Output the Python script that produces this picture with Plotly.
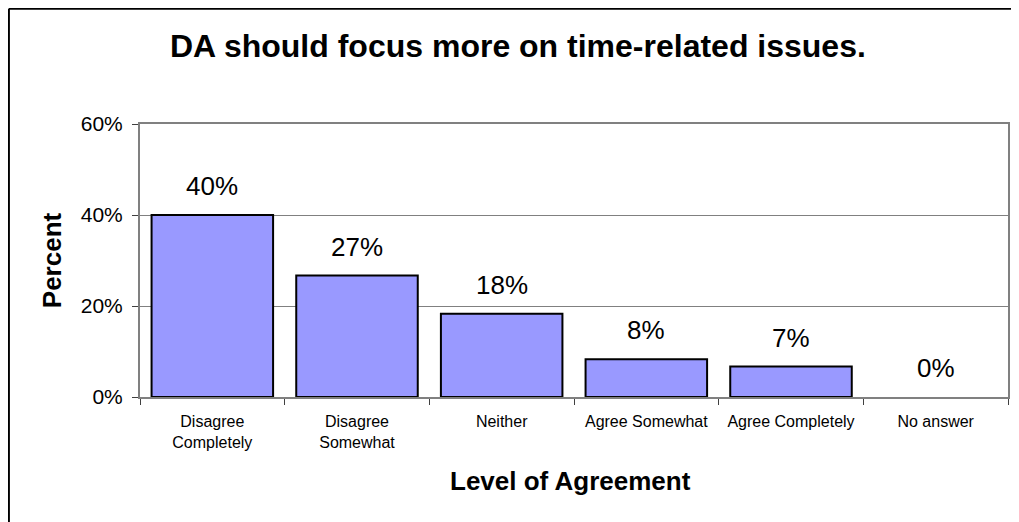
import plotly.graph_objects as go

categories = ["Disagree<br>Completely", "Disagree<br>Somewhat", "Neither",
              "Agree Somewhat", "Agree Completely", "No answer"]
percent_values = [40.0, 26.7, 18.3, 8.3, 6.7, 0.0]
label_texts = ["40%", "27%", "18%", "8%", "7%", "0%"]
y_ticks = [0, 20, 40, 60]
y_tick_labels = ["0%", "20%", "40%", "60%"]

FONT = "Liberation Sans, Arial, sans-serif"
OFF = 8  # page body margin
W, H = 1019 - OFF, 522 - OFF
L, R, T, B = 140 - OFF, 9, 124 - OFF, 125
PW, PH = W - L - R, H - T - B


def px(x):
    return (x - OFF - L) / PW


def py(y):
    return (H - B - (y - OFF)) / PH


fig = go.Figure()
fig.add_trace(go.Bar(
    x=categories, y=percent_values,
    marker=dict(color="#9999FF",
                line=dict(color="#000000",
                          width=[2 if v > 0 else 0 for v in percent_values])),
    hoverinfo="skip",
))

annotations = []
for c, v, t in zip(categories, percent_values, label_texts):
    annotations.append(dict(x=c, y=v, xref="x", yref="y", text=t, showarrow=False,
                            yanchor="middle", yshift=29,
                            font=dict(family=FONT, size=26, color="#000000")))

annotations.append(dict(x=px(519), y=py(46), xref="paper", yref="paper",
                        text="<b>DA should focus more on time-related issues.</b>",
                        showarrow=False, xanchor="center", yanchor="middle",
                        font=dict(family=FONT, size=32, color="#000000")))
annotations.append(dict(x=px(52), y=py(260), xref="paper", yref="paper",
                        text="<b>Percent</b>", textangle=-90,
                        showarrow=False, xanchor="center", yanchor="middle",
                        font=dict(family=FONT, size=26, color="#000000")))
annotations.append(dict(x=px(571), y=py(481), xref="paper", yref="paper",
                        text="<b>Level of Agreement</b>",
                        showarrow=False, xanchor="center", yanchor="middle",
                        font=dict(family=FONT, size=26, color="#000000")))

shapes = [
    dict(type="line", xref="paper", yref="paper", x0=px(8.5), x1=px(1040),
         y0=py(8.8), y1=py(8.8), line=dict(color="#000000", width=2)),
    dict(type="line", xref="paper", yref="paper", x0=px(8.6), x1=px(8.6),
         y0=py(8.8), y1=py(560), line=dict(color="#000000", width=2)),
]

fig.update_layout(
    width=W, height=H, autosize=False,
    margin=dict(l=L, r=R, t=T, b=B, pad=0),
    paper_bgcolor="#FFFFFF", plot_bgcolor="#FFFFFF",
    showlegend=False, bargap=0.16,
    annotations=annotations, shapes=shapes,
    font=dict(family=FONT, color="#000000"),
)
fig.update_xaxes(
    type="category", tickson="boundaries", ticks="outside", ticklen=6,
    tickcolor="#404040", tickwidth=1,
    showline=True, linecolor="#808080", linewidth=2, mirror=True,
    showgrid=False, tickfont=dict(family=FONT, size=16, color="#000000"),
    ticklabelstandoff=9,
)
fig.update_yaxes(
    range=[0, 60], tickvals=y_ticks, ticktext=y_tick_labels,
    ticks="outside", ticklen=6, tickcolor="#404040", tickwidth=1,
    showline=True, linecolor="#808080", linewidth=2, mirror=True,
    showgrid=True, gridcolor="#808080", gridwidth=1, zeroline=False,
    tickfont=dict(family=FONT, size=21, color="#000000"),
    ticklabelstandoff=5,
)

fig.write_html("out.html")
